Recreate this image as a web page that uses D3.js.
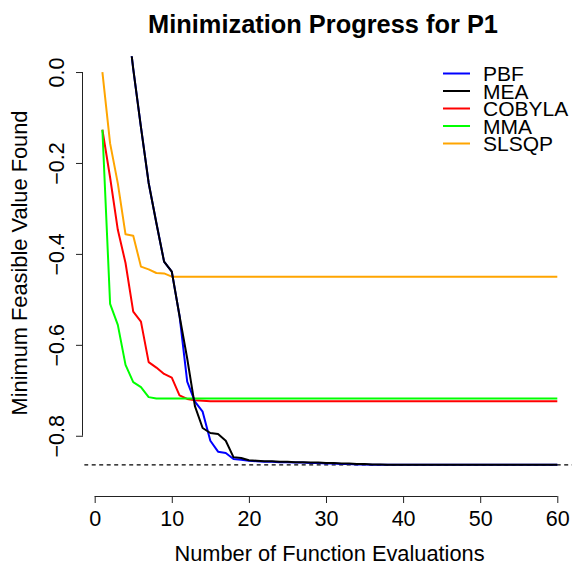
<!DOCTYPE html>
<html>
<head>
<meta charset="utf-8">
<script src="https://cdn.jsdelivr.net/npm/d3@7"></script>
<style>
  html, body { margin: 0; padding: 0; background: #fff; }
  svg { display: block; font-family: "Liberation Sans", Arial, Helvetica, sans-serif; }
</style>
</head>
<body>
<svg id="chart" width="572" height="570"></svg>
<script>
// Number of function evaluations (x positions of every series)
const evals = d3.range(1, 61);

// Best feasible objective value found after each evaluation
const pbf = [
  0.95, 0.62, 0.36, 0.15, 0.007, -0.121, -0.244, -0.332, -0.417, -0.439,
  -0.536, -0.681, -0.725, -0.747, -0.811, -0.835, -0.838, -0.851, -0.853, -0.855,
  -0.856, -0.857, -0.857, -0.858, -0.858, -0.859, -0.859, -0.860, -0.860, -0.861,
  -0.861, -0.862, -0.862, -0.863, -0.863, -0.864, -0.864, -0.864, -0.864, -0.864,
  -0.864, -0.864, -0.864, -0.864, -0.864, -0.864, -0.864, -0.864, -0.864, -0.864,
  -0.864, -0.864, -0.864, -0.864, -0.864, -0.864, -0.864, -0.864, -0.864, -0.864
];
const mea = [
  0.95, 0.62, 0.36, 0.15, 0.007, -0.121, -0.244, -0.332, -0.417, -0.439,
  -0.536, -0.630, -0.735, -0.783, -0.794, -0.796, -0.811, -0.847, -0.849, -0.854,
  -0.855, -0.856, -0.856, -0.857, -0.857, -0.858, -0.858, -0.859, -0.859, -0.860,
  -0.860, -0.861, -0.861, -0.862, -0.862, -0.863, -0.863, -0.864, -0.864, -0.864,
  -0.864, -0.864, -0.864, -0.864, -0.864, -0.864, -0.864, -0.864, -0.864, -0.864,
  -0.864, -0.864, -0.864, -0.864, -0.864, -0.864, -0.864, -0.864, -0.864, -0.864
];
const cobyla = [
  -0.127, -0.232, -0.347, -0.420, -0.527, -0.549, -0.638, -0.650, -0.664, -0.672,
  -0.711, -0.719, -0.722, -0.723, -0.724, -0.724, -0.724, -0.724, -0.724, -0.724,
  -0.724, -0.724, -0.724, -0.724, -0.724, -0.724, -0.724, -0.724, -0.724, -0.724,
  -0.724, -0.724, -0.724, -0.724, -0.724, -0.724, -0.724, -0.724, -0.724, -0.724,
  -0.724, -0.724, -0.724, -0.724, -0.724, -0.724, -0.724, -0.724, -0.724, -0.724,
  -0.724, -0.724, -0.724, -0.724, -0.724, -0.724, -0.724, -0.724, -0.724, -0.724
];
const mma = [
  -0.127, -0.510, -0.556, -0.644, -0.682, -0.693, -0.715, -0.718, -0.718, -0.718,
  -0.718, -0.718, -0.718, -0.718, -0.718, -0.718, -0.718, -0.718, -0.718, -0.718,
  -0.718, -0.718, -0.718, -0.718, -0.718, -0.718, -0.718, -0.718, -0.718, -0.718,
  -0.718, -0.718, -0.718, -0.718, -0.718, -0.718, -0.718, -0.718, -0.718, -0.718,
  -0.718, -0.718, -0.718, -0.718, -0.718, -0.718, -0.718, -0.718, -0.718, -0.718,
  -0.718, -0.718, -0.718, -0.718, -0.718, -0.718, -0.718, -0.718, -0.718, -0.718
];
const slsqp = [
  0.000, -0.157, -0.245, -0.357, -0.360, -0.428, -0.434, -0.442, -0.443, -0.450,
  -0.450, -0.450, -0.450, -0.450, -0.450, -0.450, -0.450, -0.450, -0.450, -0.450,
  -0.450, -0.450, -0.450, -0.450, -0.450, -0.450, -0.450, -0.450, -0.450, -0.450,
  -0.450, -0.450, -0.450, -0.450, -0.450, -0.450, -0.450, -0.450, -0.450, -0.450,
  -0.450, -0.450, -0.450, -0.450, -0.450, -0.450, -0.450, -0.450, -0.450, -0.450,
  -0.450, -0.450, -0.450, -0.450, -0.450, -0.450, -0.450, -0.450, -0.450, -0.450
];

// Known global optimum (dashed reference line)
const optimum = -0.864;

const methodNames = ["PBF", "MEA", "COBYLA", "MMA", "SLSQP"];
const methodValues = [pbf, mea, cobyla, mma, slsqp];
const methodColors = ["#0000ff", "#000000", "#ff0000", "#00ff00", "#ffa500"];
const drawOrder = [2, 3, 4, 0, 1];

const xTicks = [0, 10, 20, 30, 40, 50, 60];
const yTicks = [-0.8, -0.6, -0.4, -0.2, 0.0];

const svg = d3.select("#chart");

// Plot region
const plotLeft = 84.2, plotRight = 575.5, plotTop = 56.3, plotBottom = 481.5;

const x = d3.scaleLinear().domain([-1.36, 62.36]).range([plotLeft, plotRight]);
const y = d3.scaleLinear().domain([-0.9006, 0.0346]).range([plotBottom, plotTop]);

svg.append("defs").append("clipPath").attr("id", "plotClip")
  .append("rect")
  .attr("x", plotLeft).attr("y", plotTop)
  .attr("width", plotRight - plotLeft).attr("height", plotBottom - plotTop);

const plot = svg.append("g").attr("clip-path", "url(#plotClip)");

// Reference line at the optimum
plot.append("line")
  .attr("x1", plotLeft).attr("x2", plotRight)
  .attr("y1", y(optimum)).attr("y2", y(optimum))
  .attr("stroke", "#000").attr("stroke-width", 1.1)
  .attr("stroke-dasharray", "4,3.5");

const line = d3.line()
  .x((d, i) => x(evals[i]))
  .y(d => y(d));

drawOrder.forEach(k => {
  plot.append("path")
    .datum(methodValues[k])
    .attr("d", line)
    .attr("fill", "none")
    .attr("stroke", methodColors[k])
    .attr("stroke-width", 2)
    .attr("stroke-linejoin", "round");
});

// Axes
const fmtY = d => d3.format(".1f")(d).replace("-", "\u2212");

const xAxis = svg.append("g")
  .attr("transform", `translate(0,496)`)
  .call(d3.axisBottom(x).tickValues(xTicks).tickSize(7).tickPadding(8).tickFormat(d3.format("d")));
xAxis.select(".domain").attr("d", `M${x(0)},0.5H${x(60)}`);

const yAxis = svg.append("g")
  .attr("transform", `translate(83,0)`)
  .call(d3.axisLeft(y).tickValues(yTicks).tickSize(7).tickFormat(fmtY));
yAxis.select(".domain").attr("d", `M-0.5,${y(-0.8)}V${y(0)}`);

[xAxis, yAxis].forEach(g => {
  g.selectAll("path, line").attr("stroke", "#222").attr("stroke-width", 1);
  g.selectAll("text").attr("fill", "#000").style("font-size", "21.5px")
    .style("font-family", "'Liberation Sans', Arial, sans-serif");
});

// Rotated y tick labels, centred on the ticks
yAxis.selectAll(".tick text")
  .attr("x", null).attr("dy", null)
  .attr("text-anchor", "middle")
  .attr("transform", "translate(-19,0) rotate(-90)");

// Titles
svg.append("text")
  .attr("x", 323).attr("y", 33)
  .attr("text-anchor", "middle")
  .style("font-size", "25.4px").style("font-weight", "bold")
  .text("Minimization Progress for P1");

svg.append("text")
  .attr("x", 329.5).attr("y", 561)
  .attr("text-anchor", "middle")
  .style("font-size", "21.8px")
  .text("Number of Function Evaluations");

svg.append("text")
  .attr("transform", `translate(27,263) rotate(-90)`)
  .attr("text-anchor", "middle")
  .style("font-size", "21.8px")
  .text("Minimum Feasible Value Found");

// Legend
const legend = svg.append("g").attr("transform", "translate(443,73.5)");
methodNames.forEach((name, i) => {
  const row = legend.append("g").attr("transform", `translate(0,${i * 17.5})`);
  row.append("line")
    .attr("x1", 0).attr("x2", 27).attr("y1", 0).attr("y2", 0)
    .attr("stroke", methodColors[i]).attr("stroke-width", 2);
  row.append("text")
    .attr("x", 40).attr("y", 7.5)
    .style("font-size", "21px")
    .text(name);
});
</script>
</body>
</html>
